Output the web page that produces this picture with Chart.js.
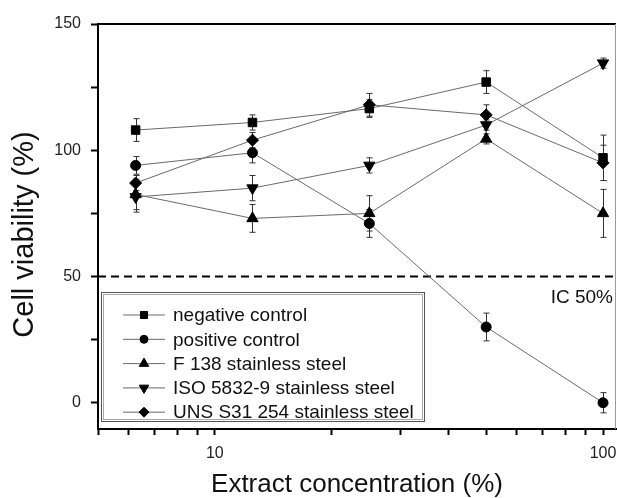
<!DOCTYPE html>
<html>
<head>
<meta charset="utf-8">
<script src="https://cdn.jsdelivr.net/npm/chart.js@4"></script>
<style>
  body { margin: 0; background: #fff; }
  #wrap { width: 617px; height: 498px; }
</style>
</head>
<body>
<div id="wrap"><canvas id="chartCanvas" width="617" height="498"></canvas></div>
<script>
// extract concentrations (%)
const concentrations = [6.25, 12.5, 25, 50, 100];

const negativeControl = [108, 111, 116.5, 127, 97];
const negativeErr = [4.5, 3, 3.5, 4.5, 9];
const positiveControl = [94, 99, 71, 30, 0];
const positiveErr = [3.5, 4, 5.5, 5.5, 4];
const f138 = [82.5, 73, 75, 104.5, 75];
const f138Err = [6, 5.5, 7, 2, 9.5];
const iso5832 = [81.5, 85, 94, 110, 134.5];
const isoErr = [6, 5, 3, 2, 2];
const uns31254 = [87, 104, 118, 114, 95];
const unsErr = [3, 3, 4.5, 4, 7];

const seriesLabels = ['negative control', 'positive control', 'F 138 stainless steel',
  'ISO 5832-9 stainless steel', 'UNS S31 254 stainless steel'];

const xTicks = [5, 6, 7, 8, 9, 10, 20, 30, 40, 50, 60, 70, 80, 90, 100];
const xLabelled = [10, 100];
const yTicks = [0, 25, 50, 75, 100, 125, 150];
const ic50 = 50;

const FONT = '"Liberation Sans", Arial, sans-serif';

const markers = [
  { pointStyle: 'rect', radius: 6, rotation: 0 },
  { pointStyle: 'circle', radius: 5, rotation: 0 },
  { pointStyle: 'triangle', radius: 6.5, rotation: 0 },
  { pointStyle: 'triangle', radius: 6.5, rotation: 180 },
  { pointStyle: 'rectRot', radius: 6, rotation: 0 }
];

const values = [negativeControl, positiveControl, f138, iso5832, uns31254];
const errors = [negativeErr, positiveErr, f138Err, isoErr, unsErr];

function series(i) {
  return {
    label: seriesLabels[i],
    data: concentrations.map((c, k) => ({ x: c, y: values[i][k] })),
    errors: errors[i],
    borderColor: '#6a6a6a',
    borderWidth: 1,
    backgroundColor: '#000',
    pointBackgroundColor: '#000',
    pointBorderColor: '#000',
    pointBorderWidth: 1,
    pointStyle: markers[i].pointStyle,
    pointRadius: markers[i].radius,
    pointRotation: markers[i].rotation,
    tension: 0
  };
}

// error bars, drawn under the markers
const errorBars = {
  id: 'errorBars',
  beforeDatasetsDraw(chart) {
    const ctx = chart.ctx;
    const xs = chart.scales.x, ys = chart.scales.y;
    ctx.save();
    ctx.strokeStyle = '#333';
    ctx.lineWidth = 1;
    chart.data.datasets.forEach(ds => {
      if (!ds.errors) return;
      ds.data.forEach((p, k) => {
        const e = ds.errors[k];
        const x = Math.round(xs.getPixelForValue(p.x)) + 0.5;
        const top = ys.getPixelForValue(p.y + e);
        const bot = ys.getPixelForValue(p.y - e);
        ctx.beginPath();
        ctx.moveTo(x, top); ctx.lineTo(x, bot);
        ctx.moveTo(x - 3, top); ctx.lineTo(x + 3, top);
        ctx.moveTo(x - 3, bot); ctx.lineTo(x + 3, bot);
        ctx.stroke();
      });
    });
    ctx.restore();
  }
};

function marker(ctx, m, x, y, r) {
  const opts = { pointStyle: m.pointStyle, rotation: m.rotation, radius: r, borderWidth: 1 };
  if (Chart.helpers && Chart.helpers.drawPoint) {
    Chart.helpers.drawPoint(ctx, opts, x, y);
    return;
  }
  ctx.beginPath();
  ctx.arc(x, y, r, 0, Math.PI * 2);
  ctx.fill();
}

// frame, IC label, legend box
const decorations = {
  id: 'decorations',
  afterDraw(chart) {
    const ctx = chart.ctx;
    const a = chart.chartArea;
    const ys = chart.scales.y;
    ctx.save();
    // top and right frame
    ctx.strokeStyle = '#000';
    ctx.lineWidth = 2;
    ctx.beginPath();
    ctx.moveTo(a.left, a.top); ctx.lineTo(a.right, a.top);
    ctx.stroke();
    ctx.strokeStyle = '#999';
    ctx.lineWidth = 1;
    ctx.beginPath();
    ctx.moveTo(a.right - 0.5, a.top); ctx.lineTo(a.right - 0.5, a.bottom);
    ctx.stroke();

    // IC 50% label
    ctx.fillStyle = '#111';
    ctx.font = '19px ' + FONT;
    ctx.textAlign = 'right';
    ctx.textBaseline = 'middle';
    ctx.fillText('IC 50%', a.right - 3, ys.getPixelForValue(ic50) + 21);

    // legend
    const bx = 101.5, by = 292.5, bw = 323, bh = 129;
    ctx.strokeStyle = '#555';
    ctx.strokeRect(bx, by, bw, bh);
    ctx.strokeStyle = '#aaa';
    ctx.strokeRect(bx + 2, by + 2, bw - 4, bh - 4);
    ctx.font = '19px ' + FONT;
    ctx.textAlign = 'left';
    seriesLabels.forEach((label, i) => {
      const y = 315 + i * 24.3;
      ctx.strokeStyle = '#6a6a6a';
      ctx.lineWidth = 1;
      ctx.beginPath();
      ctx.moveTo(123, y); ctx.lineTo(165, y);
      ctx.stroke();
      ctx.fillStyle = '#000';
      ctx.strokeStyle = '#000';
      marker(ctx, markers[i], 144, y, markers[i].radius - 1);
      ctx.fillStyle = '#111';
      ctx.fillText(label, 173, y + 1);
    });
    ctx.restore();
  }
};

const datasets = values.map((v, i) => series(i));
datasets.push({
  label: 'IC 50%',
  data: [{ x: xTicks[0], y: ic50 }, { x: 120, y: ic50 }],
  borderColor: '#000',
  borderWidth: 2,
  borderDash: [8, 5],
  pointRadius: 0,
  errors: null
});

const ctx = document.getElementById('chartCanvas').getContext('2d');
new Chart(ctx, {
  type: 'line',
  data: { datasets: datasets },
  options: {
    responsive: false,
    devicePixelRatio: 1,
    animation: false,
    layout: { autoPadding: false, padding: { top: 24, right: 1, left: 0, bottom: 0 } },
    plugins: { legend: { display: false }, tooltip: { enabled: false } },
    scales: {
      x: {
        type: 'logarithmic',
        min: 5,
        max: 108,
        afterBuildTicks: s => { s.ticks = xTicks.map(v => ({ value: v, major: xLabelled.includes(v) })); },
        afterFit: s => { s.height = 69; s.paddingLeft = 0; s.paddingRight = 0; },
        ticks: {
          autoSkip: false,
          maxRotation: 0,
          padding: 9,
          color: '#222',
          font: { family: FONT, size: 16 },
          callback: v => xLabelled.includes(v) ? String(v) : ''
        },
        grid: { drawOnChartArea: false, drawTicks: true, tickLength: 6, color: '#000', tickWidth: 2 },
        border: { display: true, color: '#000', width: 2 },
        title: {
          display: true,
          text: 'Extract concentration (%)',
          color: '#111',
          font: { family: FONT, size: 26, lineHeight: 1 },
          padding: { top: 1, bottom: 0 }
        }
      },
      y: {
        type: 'linear',
        min: -10.4,
        max: 150,
        afterBuildTicks: s => { s.ticks = yTicks.map(v => ({ value: v })); },
        afterFit: s => { s.width = 98; s.paddingTop = 0; s.paddingBottom = 0; },
        ticks: {
          padding: 10,
          color: '#222',
          font: { family: FONT, size: 16 },
          callback: v => v % 50 === 0 ? String(v) : ''
        },
        grid: { drawOnChartArea: false, drawTicks: true, tickLength: 7, color: '#000', tickWidth: 2 },
        border: { display: true, color: '#000', width: 2 },
        title: {
          display: true,
          text: 'Cell viability (%)  ',
          color: '#111',
          font: { family: FONT, size: 29, lineHeight: 1 },
          padding: { top: 10, bottom: 0 }
        }
      }
    }
  },
  plugins: [errorBars, decorations]
});
</script>
</body>
</html>
